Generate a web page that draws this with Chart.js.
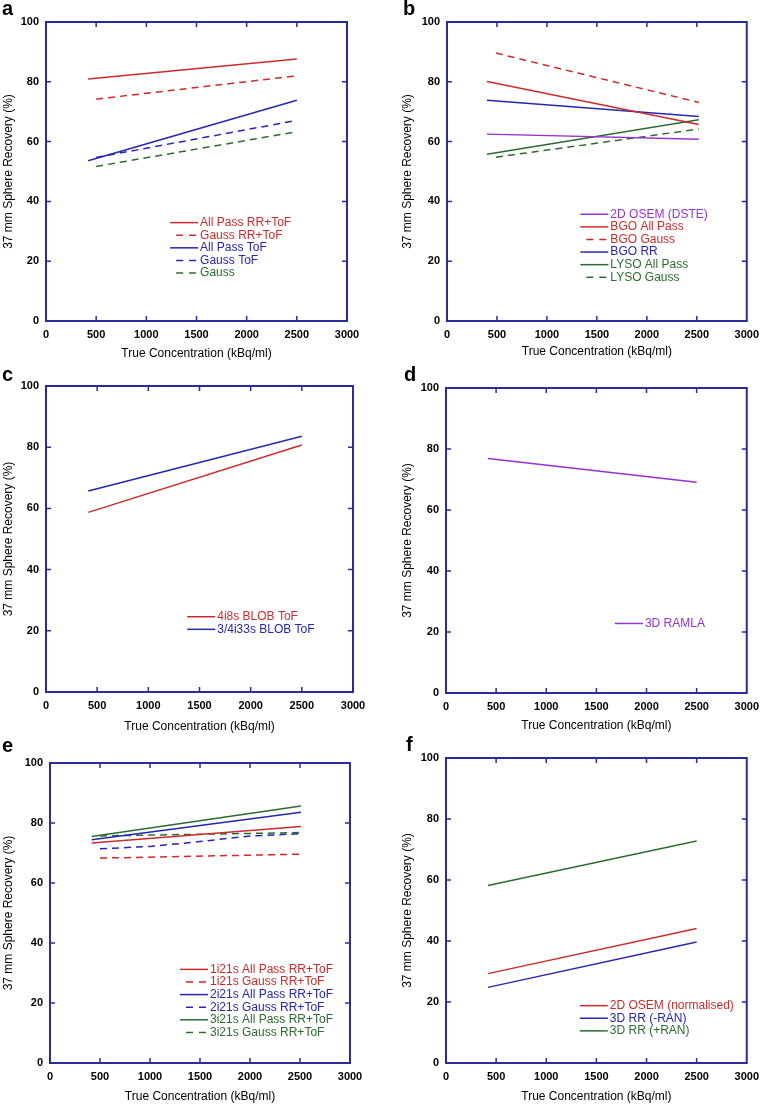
<!DOCTYPE html>
<html>
<head>
<meta charset="utf-8">
<script src="https://cdn.jsdelivr.net/npm/chart.js@4/dist/chart.umd.min.js"></script>
<style>
  html, body { margin: 0; padding: 0; background: #fff; }
  body { width: 766px; height: 1105px; position: relative; overflow: hidden; }
  canvas { position: absolute; }
</style>
</head>
<body>
<canvas id="pa"></canvas>
<canvas id="pb"></canvas>
<canvas id="pc"></canvas>
<canvas id="pd"></canvas>
<canvas id="pe"></canvas>
<canvas id="pf"></canvas>
<script>
// values: x = true concentration (kBq/ml), y = recovery (%)
const xTicks = [0, 500, 1000, 1500, 2000, 2500, 3000];
const yTicks = [0, 20, 40, 60, 80, 100];

// panel a
const concA = [420, 2500];
const concAGauss = [500, 2500];
const aAllPassRRToF = [80.9, 87.6];
const aGaussRRToF = [74.2, 82.0];
const aAllPassToF = [53.6, 73.8];
const aGaussToF = [54.7, 67.1];
const aGauss = [51.7, 63.3];

// panel b
const concB = [400, 2520];
const concBGauss = [490, 2520];
const bOsemDSTE = [62.5, 60.8];
const bBgoAllPass = [80.1, 65.7];
const bBgoGauss = [89.6, 73.1];
const bBgoRR = [73.8, 68.4];
const bLysoAllPass = [55.8, 67.3];
const bLysoGauss = [54.8, 64.2];

// panel c
const concC = [413, 2500];
const c4i8s = [58.7, 80.7];
const c34i33s = [65.7, 83.6];

// panel d
const concD = [418, 2500];
const dRamla = [76.9, 69.1];

// panel e
const concE = [417, 2510];
const concEGauss = [500, 2500];
const concE2Gauss = [500, 1000, 1500, 2000, 2500];
const e1AllPass = [73.3, 78.8];
const e1Gauss = [68.3, 69.6];
const e2AllPass = [74.4, 83.6];
const e2Gauss = [71.4, 72.2, 73.8, 75.7, 76.4];
const e3AllPass = [75.5, 85.7];
const e3Gauss = [75.7, 76.8];

// panel f
const concF = [418, 2500];
const fOsemNorm = [29.3, 44.1];
const fRRminus = [24.8, 39.7];
const fRRplus = [58.2, 72.8];

const RED = '#cc2b2b';
const BLUE = '#2626b2';
const GREEN = '#2e6b32';
const PURPLE = '#9433cf';
const FRAME = '#2b2b9e';
const FONT = '"Liberation Sans", Arial, sans-serif';

function pts(xs, ys) {
    return xs.map((x, i) => ({x: x, y: ys[i]}));
}

function series(label, xs, ys, color, dashed) {
    return {
        label: label,
        data: pts(xs, ys),
        borderColor: color,
        backgroundColor: color,
        borderWidth: 1.5,
        borderDash: dashed ? [7, 5] : [],
        pointRadius: 0,
        fill: false,
        tension: 0,
    };
}

// frame, inward ticks, in-plot legend and panel letter
const decoPlugin = {
    id: 'deco',
    afterDraw(chart) {
        const o = chart.options.plugins.deco;
        const ctx = chart.ctx;
        const a = chart.chartArea;
        const xs = chart.scales.x;
        const ys = chart.scales.y;
        ctx.save();

        ctx.strokeStyle = FRAME;
        ctx.lineWidth = 1.5;
        ctx.beginPath();
        xTicks.slice(1, -1).forEach(v => {
            const px = xs.getPixelForValue(v);
            ctx.moveTo(px, a.bottom); ctx.lineTo(px, a.bottom - 5);
            ctx.moveTo(px, a.top); ctx.lineTo(px, a.top + 5);
        });
        yTicks.slice(1, -1).forEach(v => {
            const py = ys.getPixelForValue(v);
            ctx.moveTo(a.left, py); ctx.lineTo(a.left + 5, py);
            ctx.moveTo(a.right, py); ctx.lineTo(a.right - 5, py);
        });
        ctx.stroke();
        ctx.lineWidth = 2;
        ctx.strokeRect(a.left, a.top, a.right - a.left, a.bottom - a.top);

        // legend
        const tx = xs.getPixelForValue(o.legendX);
        const ty = ys.getPixelForValue(o.legendY);
        ctx.font = '12px ' + FONT;
        ctx.textBaseline = 'middle';
        ctx.textAlign = 'left';
        chart.data.datasets.forEach((ds, i) => {
            const y = ty + i * 12.6;
            ctx.strokeStyle = ds.borderColor;
            ctx.lineWidth = 1.5;
            ctx.beginPath();
            if (ds.borderDash.length) {
                ctx.setLineDash([7, 6]);
                ctx.moveTo(tx - 24, y); ctx.lineTo(tx - 3, y);
            } else {
                ctx.setLineDash([]);
                ctx.moveTo(tx - 30, y); ctx.lineTo(tx - 2, y);
            }
            ctx.stroke();
            ctx.setLineDash([]);
            ctx.fillStyle = ds.borderColor;
            ctx.fillText(ds.label, tx, y);
        });

        ctx.fillStyle = '#000';
        ctx.font = 'bold 20px ' + FONT;
        ctx.textBaseline = 'alphabetic';
        ctx.fillText(o.letter, o.letterX, o.letterY);
        ctx.restore();
    }
};

function makePanel(id, p, datasets) {
    const el = document.getElementById(id);
    const plotH = p.bottom - p.top;
    el.width = 383;
    el.height = p.top + plotH + p.xH;
    el.style.left = p.left + 'px';
    el.style.top = p.canvasTop + 'px';

    new Chart(el, {
        type: 'line',
        data: {datasets: datasets},
        options: {
            responsive: false,
            animation: false,
            devicePixelRatio: 1,
            layout: {
                padding: {left: p.padL, right: p.padR, top: p.top, bottom: 0},
            },
            plugins: {
                legend: {display: false},
                tooltip: {enabled: false},
                deco: {
                    letter: p.letter, letterX: p.letterX, letterY: p.letterY,
                    legendX: p.legendX, legendY: p.legendY,
                },
            },
            scales: {
                x: {
                    type: 'linear',
                    min: 0,
                    max: 3000,
                    afterFit: s => { s.height = p.xH; },
                    afterBuildTicks: s => { s.ticks = xTicks.map(v => ({value: v})); },
                    grid: {display: false, drawTicks: false},
                    border: {display: false},
                    ticks: {
                        padding: 7,
                        color: '#000',
                        maxRotation: 0,
                        callback: v => String(v),
                        font: {family: FONT, size: 11, weight: 'bold'},
                    },
                    title: {
                        display: true,
                        text: 'True Concentration (kBq/ml)',
                        color: '#000',
                        padding: {top: 0, bottom: 0},
                        font: {family: FONT, size: 12},
                    },
                },
                y: {
                    min: 0,
                    max: 100,
                    afterFit: s => { s.width = p.yW; },
                    afterBuildTicks: s => { s.ticks = yTicks.map(v => ({value: v})); },
                    grid: {display: false, drawTicks: false},
                    border: {display: false},
                    ticks: {
                        padding: 7,
                        color: '#000',
                        callback: v => String(v),
                        font: {family: FONT, size: 11, weight: 'bold'},
                    },
                    title: {
                        display: true,
                        text: '37 mm Sphere Recovery (%)',
                        color: '#000',
                        padding: {top: 1, bottom: 0},
                        font: {family: FONT, size: 12},
                    },
                },
            },
        },
        plugins: [decoPlugin],
    });
}

makePanel('pa', {
    left: 0, canvasTop: 0, padL: 0, yW: 46, padR: 36, top: 22, bottom: 321, xH: 40,
    letter: 'a', letterX: 2, letterY: 15, legendX: 1536, legendY: 32.9,
}, [
    series('All Pass RR+ToF', concA, aAllPassRRToF, RED, false),
    series('Gauss RR+ToF', concAGauss, aGaussRRToF, RED, true),
    series('All Pass ToF', concA, aAllPassToF, BLUE, false),
    series('Gauss ToF', concAGauss, aGaussToF, BLUE, true),
    series('Gauss', concAGauss, aGauss, GREEN, true),
]);

makePanel('pb', {
    left: 383, canvasTop: 0, padL: 16, yW: 48, padR: 19, top: 22, bottom: 321, xH: 38,
    letter: 'b', letterX: 20, letterY: 15, legendX: 1635, legendY: 35.7,
}, [
    series('2D OSEM (DSTE)', concB, bOsemDSTE, PURPLE, false),
    series('BGO All Pass', concB, bBgoAllPass, RED, false),
    series('BGO Gauss', concBGauss, bBgoGauss, RED, true),
    series('BGO RR', concB, bBgoRR, BLUE, false),
    series('LYSO All Pass', concB, bLysoAllPass, GREEN, false),
    series('LYSO Gauss', concBGauss, bLysoGauss, GREEN, true),
]);

makePanel('pc', {
    left: 0, canvasTop: 360, padL: 0, yW: 46, padR: 30, top: 26, bottom: 332, xH: 42,
    letter: 'c', letterX: 2, letterY: 21, legendX: 1673, legendY: 24.6,
}, [
    series('4i8s BLOB ToF', concC, c4i8s, RED, false),
    series('3/4i33s BLOB ToF', concC, c34i33s, BLUE, false),
]);

makePanel('pd', {
    left: 383, canvasTop: 360, padL: 16, yW: 47, padR: 14, top: 28, bottom: 333, xH: 40,
    letter: 'd', letterX: 21, letterY: 21, legendX: 1984, legendY: 22.8,
}, [
    series('3D RAMLA', concD, dRamla, PURPLE, false),
]);

makePanel('pe', {
    left: 0, canvasTop: 730, padL: 0, yW: 50, padR: 33, top: 33, bottom: 333, xH: 41,
    letter: 'e', letterX: 2, letterY: 22, legendX: 1600, legendY: 31.2,
}, [
    series('1i21s All Pass RR+ToF', concE, e1AllPass, RED, false),
    series('1i21s Gauss RR+ToF', concEGauss, e1Gauss, RED, true),
    series('2i21s All Pass RR+ToF', concE, e2AllPass, BLUE, false),
    series('2i21s Gauss RR+ToF', concE2Gauss, e2Gauss, BLUE, true),
    series('3i21s All Pass RR+ToF', concE, e3AllPass, GREEN, false),
    series('3i21s Gauss RR+ToF', concEGauss, e3Gauss, GREEN, true),
]);

makePanel('pf', {
    left: 383, canvasTop: 730, padL: 16, yW: 47, padR: 14, top: 28, bottom: 333, xH: 41,
    letter: 'f', letterX: 23, letterY: 21, legendX: 1634, legendY: 18.8,
}, [
    series('2D OSEM (normalised)', concF, fOsemNorm, RED, false),
    series('3D RR (-RAN)', concF, fRRminus, BLUE, false),
    series('3D RR (+RAN)', concF, fRRplus, GREEN, false),
]);
</script>
</body>
</html>
